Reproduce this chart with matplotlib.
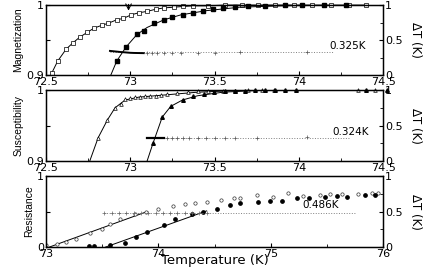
import numpy as np
import matplotlib.pyplot as plt

plt.rcParams['font.family'] = ['DejaVu Sans']

# --- Magnetizacion (panel superior) ---
mag_T_open = [72.535, 72.57, 72.62, 72.66, 72.70, 72.745, 72.785, 72.83, 72.87, 72.92,
              72.96, 73.005, 73.05, 73.10, 73.15, 73.20, 73.26, 73.31, 73.37, 73.46,
              73.56, 73.66, 73.76, 73.86, 73.97, 74.08, 74.19, 74.30, 74.40]
mag_open = [0.903, 0.92, 0.937, 0.946, 0.954, 0.961, 0.967, 0.971, 0.974, 0.979,
            0.981, 0.986, 0.989, 0.991, 0.994, 0.996, 0.997, 0.998, 0.999, 0.999,
            1.0, 1.0, 1.0, 1.0, 1.0, 1.0, 1.0, 1.0, 1.0]
mag_T_fill = [72.92, 72.975, 73.04, 73.08, 73.14, 73.20, 73.25, 73.31, 73.375, 73.43,
              73.49, 73.55, 73.62, 73.70, 73.80, 73.92, 74.02, 74.15, 74.28]
mag_fill = [0.92, 0.94, 0.959, 0.963, 0.974, 0.979, 0.983, 0.986, 0.989, 0.991,
            0.994, 0.996, 0.997, 0.998, 0.999, 1.0, 1.0, 1.0, 1.0]
mag_fit_T = [72.885, 72.92, 72.975, 73.04, 73.10, 73.20, 73.30, 73.45, 73.65, 73.90, 74.30]
mag_fit = [0.9, 0.92, 0.94, 0.958, 0.968, 0.979, 0.986, 0.992, 0.997, 0.999, 1.0]
# tramo denso (linea gruesa) y puntos sueltos de delta T
mag_dT_T = [72.88, 72.90, 72.92, 72.94, 72.96, 72.98, 73.00, 73.02, 73.04, 73.06, 73.08]
mag_dT = [0.345, 0.340, 0.335, 0.330, 0.326, 0.322, 0.318, 0.316, 0.315, 0.314, 0.313]
mag_dT_T2 = [73.10, 73.13, 73.16, 73.20, 73.25, 73.30, 73.40, 73.50, 73.65, 74.05]
mag_dT2 = [0.313, 0.312, 0.313, 0.314, 0.315, 0.317, 0.318, 0.320, 0.325, 0.33]
mag_dT_val = 0.325

# --- Susceptibilidad (panel medio) ---
sus_T_open = [72.81, 72.865, 72.91, 72.945, 72.97, 73.0, 73.03, 73.06, 73.09, 73.12,
              73.15, 73.18, 73.22, 73.28, 73.34, 73.40, 73.46, 73.55, 73.62, 73.70,
              73.78, 73.85, 74.35, 74.45]
sus_open = [0.933, 0.958, 0.975, 0.981, 0.987, 0.989, 0.990, 0.990, 0.991, 0.991,
            0.992, 0.993, 0.995, 0.996, 0.997, 0.998, 0.998, 0.999, 0.999, 1.0,
            1.0, 1.0, 1.0, 1.0]
sus_fit_T = [72.76, 72.81, 72.865, 72.91, 72.97, 73.05, 73.20, 73.40, 73.70, 74.45]
sus_fit = [0.9, 0.933, 0.958, 0.975, 0.986, 0.990, 0.993, 0.997, 1.0, 1.0]
sus_T_fill = [73.135, 73.19, 73.24, 73.31, 73.37, 73.435, 73.495, 73.56, 73.62, 73.68,
              73.74, 73.80, 73.86, 73.92, 73.98, 74.40, 74.52]
sus_fill = [0.925, 0.962, 0.977, 0.986, 0.991, 0.994, 0.997, 0.998, 0.999, 0.999,
            1.0, 1.0, 1.0, 1.0, 1.0, 1.0, 1.0]
sus_fit2_T = [73.10, 73.135, 73.19, 73.24, 73.31, 73.40, 73.55, 73.80, 74.52]
sus_fit2 = [0.9, 0.925, 0.962, 0.977, 0.986, 0.992, 0.997, 1.0, 1.0]
sus_dT_T = [73.10, 73.12, 73.14, 73.16, 73.18, 73.20]
sus_dT = [0.328, 0.328, 0.328, 0.328, 0.328, 0.328]
sus_dT_T2 = [73.22, 73.25, 73.28, 73.31, 73.35, 73.40, 73.45, 73.50, 73.56,
             73.62, 73.75, 74.05]
sus_dT2 = [0.328, 0.327, 0.327, 0.326, 0.326, 0.325, 0.325, 0.325, 0.326,
           0.326, 0.33, 0.335]
sus_dT_val = 0.324

# --- Resistencia (panel inferior) ---
res_T_open = [73.0, 73.1, 73.18, 73.27, 73.39, 73.5, 73.57, 73.66, 73.79, 73.89,
              74.0, 74.13, 74.24, 74.33, 74.43, 74.56, 74.67, 74.73, 74.88, 75.02,
              75.15, 75.29, 75.44, 75.53, 75.63, 75.78, 75.9, 75.95]
res_open = [0.03, 0.05, 0.075, 0.12, 0.2, 0.26, 0.33, 0.39, 0.47, 0.5,
            0.53, 0.58, 0.6, 0.62, 0.64, 0.66, 0.69, 0.69, 0.73, 0.70,
            0.76, 0.72, 0.74, 0.75, 0.75, 0.75, 0.76, 0.76]
res_T_fill = [73.38, 73.43, 73.57, 73.7, 73.8, 73.9, 74.05, 74.15, 74.3, 74.40,
              74.52, 74.64, 74.73, 74.89, 74.99, 75.1, 75.23, 75.34, 75.48, 75.59,
              75.68, 75.84, 75.93]
res_fill = [0.01, 0.02, 0.03, 0.06, 0.14, 0.21, 0.31, 0.40, 0.47, 0.50,
            0.54, 0.59, 0.62, 0.64, 0.65, 0.65, 0.69, 0.69, 0.71, 0.72,
            0.71, 0.73, 0.74]
res_fit_open_T = [73.03, 73.9]
res_fit_open = [0.0, 0.5]
res_fit_fill_T = [73.53, 74.43]
res_fit_fill = [0.0, 0.51]
res_dT_T = [73.52, 73.585, 73.65, 73.715, 73.78, 73.845, 73.91, 73.975, 74.04, 74.105,
            74.17, 74.235, 74.30, 74.365, 74.43]
res_dT = [0.486, 0.486, 0.486, 0.486, 0.486, 0.486, 0.486, 0.486, 0.486, 0.486,
          0.486, 0.486, 0.486, 0.486, 0.486]
res_dT_val = 0.486

fig = plt.figure(figsize=(4.33, 2.68), dpi=100)

posiciones = [[0.106, 0.720, 0.779, 0.261],
              [0.106, 0.399, 0.779, 0.265],
              [0.106, 0.078, 0.779, 0.265]]

lw = 0.7
ms = 2.6


def preparar(ax, ylabel, xlim, ylim, xmaj, xmin_, yticks, ylabels):
    ax.set_xlim(*xlim)
    ax.set_ylim(*ylim)
    ax.set_xticks(xmaj)
    ax.set_xticklabels([f"{v:g}" for v in xmaj])
    ax.set_xticks(xmin_, minor=True)
    ax.set_yticks(yticks)
    ax.set_yticklabels(ylabels)
    ax.tick_params(direction='in', length=3, labelsize=8, pad=1.5)
    ax.tick_params(which='minor', direction='in', length=2)
    ax.set_ylabel(ylabel, fontsize=7.5, family=['Liberation Sans'], labelpad=2)
    for s in ax.spines.values():
        s.set_linewidth(1.0)
    ax2 = ax.twinx()
    ax2.set_ylim(0, 1)
    ax2.set_yticks([0, 0.5, 1])
    ax2.set_yticklabels(['0', '0.5', '1'])
    ax2.set_yticks([0.25, 0.75], minor=True)
    ax2.tick_params(direction='in', length=3, labelsize=8, pad=1.5)
    ax2.tick_params(which='minor', direction='in', length=2)
    ax2.set_ylabel('ΔT (K)', fontsize=8.5, rotation=-90, labelpad=14)
    return ax2


# Panel superior
ax = fig.add_axes(posiciones[0])
ax2 = preparar(ax, 'Magnetization', (72.5, 74.5), (0.9, 1.0),
               [72.5, 73, 73.5, 74, 74.5], [72.75, 73.25, 73.75, 74.25],
               [0.9, 0.95, 1.0], ['0.9', '', '1'])
ax.plot(mag_T_open, mag_open, '-', color='k', lw=lw, clip_on=False)
ax.plot(mag_T_open, mag_open, 's', mfc='white', mec='k', mew=0.5, ms=ms, clip_on=False)
ax.plot(mag_fit_T, mag_fit, '-', color='k', lw=lw)
ax.plot(mag_T_fill, mag_fill, 's', color='k', ms=ms, clip_on=False)
ax.annotate('', xy=(72.99, 0.988), xytext=(72.99, 1.005),
            arrowprops=dict(arrowstyle='->', lw=0.8, color='k'), annotation_clip=False)
ax2.hlines(mag_dT_val, 72.88, 74.2, linestyles=':', lw=0.7, color='0.5')
ax2.plot(mag_dT_T, mag_dT, '-', color='k', lw=1.4)
ax2.plot(mag_dT_T2, mag_dT2, '+', color='0.35', ms=2.2, mew=0.5)
ax2.text(74.18, mag_dT_val + 0.02, f"{mag_dT_val:.3f}K", fontsize=7.5, ha='left', va='bottom')

# Panel medio
ax = fig.add_axes(posiciones[1])
ax2 = preparar(ax, 'Susceptibility', (72.5, 74.5), (0.9, 1.0),
               [72.5, 73, 73.5, 74, 74.5], [72.75, 73.25, 73.75, 74.25],
               [0.9, 0.95, 1.0], ['0.9', '', '1'])
ax.plot(sus_fit_T, sus_fit, '-', color='k', lw=lw)
ax.plot(sus_T_open, sus_open, '^', mfc='white', mec='k', mew=0.5, ms=ms, clip_on=False)
ax.plot(sus_fit2_T, sus_fit2, '-', color='k', lw=lw)
ax.plot(sus_T_fill, sus_fill, '^', color='k', ms=ms, clip_on=False)
ax2.hlines(sus_dT_val, 73.1, 74.3, linestyles=':', lw=0.7, color='0.5')
ax2.plot(sus_dT_T, sus_dT, '-', color='k', lw=1.6)
ax2.plot(sus_dT_T2, sus_dT2, '+', color='0.35', ms=2.2, mew=0.5)
ax2.text(74.2, sus_dT_val + 0.02, f"{sus_dT_val:.3f}K", fontsize=7.5, ha='left', va='bottom')

# Panel inferior
ax = fig.add_axes(posiciones[2])
ax2 = preparar(ax, 'Resistance', (73, 76), (0, 1),
               [73, 74, 75, 76], [73.5, 74.5, 75.5],
               [0, 0.5, 1], ['0', '', '1'])
ax.plot(res_fit_open_T, res_fit_open, '-', color='k', lw=lw)
ax.plot(res_fit_fill_T, res_fit_fill, '-', color='k', lw=lw)
ax.plot(res_T_open, res_open, 'o', mfc='white', mec='0.2', mew=0.5, ms=2.4)
ax.plot(res_T_fill, res_fill, 'o', color='k', ms=2.4)
ax2.hlines(res_dT_val, 73.52, 75.75, linestyles=':', lw=0.7, color='0.5')
ax2.plot(res_dT_T, res_dT, '+', color='0.4', ms=2.5, mew=0.5)
ax2.text(75.28, res_dT_val + 0.03, f"{res_dT_val:.3f}K", fontsize=7.5, ha='left', va='bottom')
ax.set_xlabel('Temperature (K)', fontsize=9.5, va='center')
ax.xaxis.set_label_coords(0.5, -0.185)

fig.savefig('out.png', dpi=100)
